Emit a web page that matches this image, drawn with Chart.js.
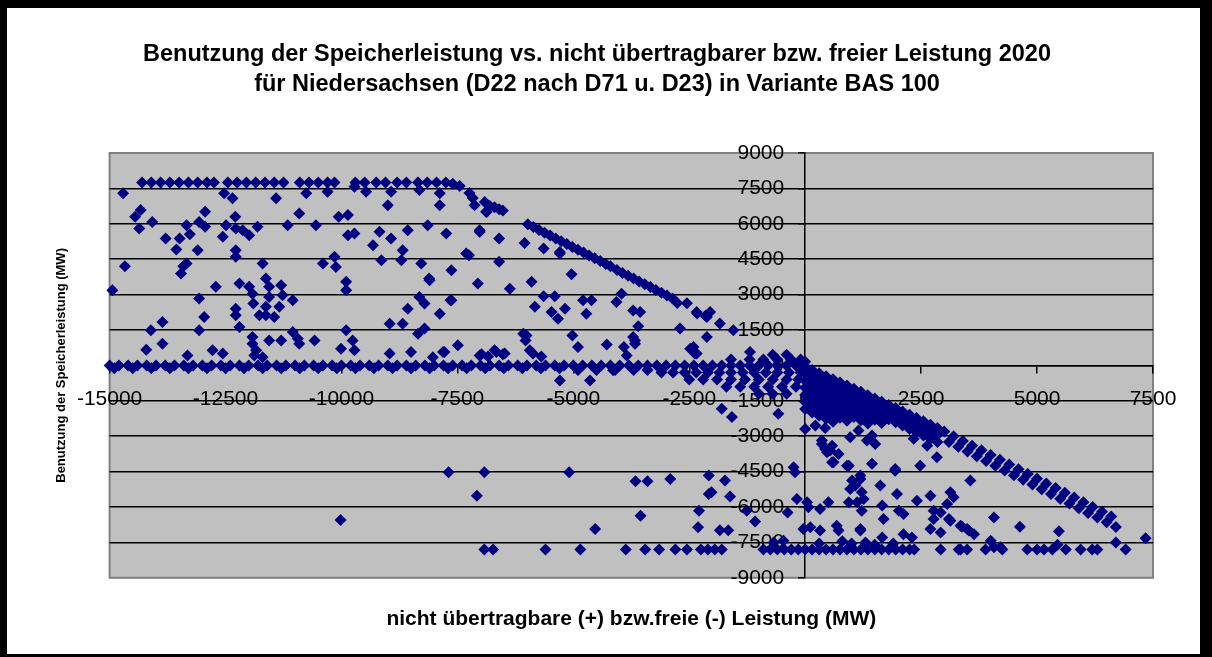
<!DOCTYPE html>
<html>
<head>
<meta charset="utf-8">
<script src="https://cdn.jsdelivr.net/npm/chart.js@4"></script>
<style>
  html, body { margin: 0; padding: 0; width: 1212px; height: 657px; background: #000; overflow: hidden; }
  #frame { position: absolute; left: 7px; top: 8px; width: 1193px; height: 646px; background: #fff; }
</style>
</head>
<body>
<div id="frame"><canvas id="speicherChart"></canvas></div>
<script>
// axis ranges / ticks
const xTicks = { min: -15000, max: 7500, step: 2500 };
const yTicks = { min: -9000, max: 9000, step: 1500 };

// points, [x, y] in MW
const capTop = [
  [-14300,7750],[-14100,7750],[-13900,7750],[-13700,7750],[-13500,7750],[-13300,7750],[-13100,7750],[-12900,7750],
  [-12750,7750],[-12450,7750],[-12250,7750],[-12050,7750],[-11850,7750],[-11650,7750],[-11450,7750],[-11250,7750],
  [-10900,7750],[-10700,7750],[-10500,7750],[-10300,7750],[-10150,7750],[-9700,7750],[-9500,7750],[-9250,7750],
  [-9050,7750],[-8800,7750],[-8600,7750],[-8350,7750],[-8150,7750],[-7950,7750],[-7750,7750],[-7600,7700]
];
const capSlope = [
  [-7450,7600],[-7240,7300],[-7170,7090],[-7130,6790],[-6910,6920],[-6870,6500],[-6800,6750],[-6700,6700],
  [-6600,6620],[-6520,6560]
];
const diagUpper = [
  [-5980,5980],[-5860,5860],[-5740,5740],[-5620,5620],[-5500,5500],[-5380,5380],[-5260,5260],[-5140,5140],
  [-5020,5020],[-4900,4900],[-4780,4780],[-4660,4660],[-4540,4540],[-4420,4420],[-4300,4300],[-4200,4200],
  [-4060,4040],[-3940,3920],[-3820,3800],[-3700,3680],[-3580,3560],[-3460,3440],[-3340,3320],[-3220,3200],
  [-3100,3080],[-2980,2960],[-2860,2840],[-2760,2640],[-2550,2630],[-2330,2200],[-2150,2100],[-1840,1780],
  [-1550,1490]
];
const scatterUpper = [
  [-14710,7290],[-14450,6300],[-14330,6580],[-14360,5800],[-14080,6080],[-14670,4200],[-14940,3180],
  [-13790,5380],[-13560,4910],[-13490,5380],[-13340,5940],[-13270,5560],[-13100,4880],[-12940,6510],[-12940,5870],
  [-13070,6080],[-13410,4200],[-13340,4320],[-13460,3890],[-12710,3330],[-13070,2830],[-12960,2050],[-13070,1490],
  [-13860,1840],[-14110,1490],[-13860,920],[-14210,660],[-13320,420],[-12780,640],[-12560,500],
  [-12530,7290],[-12350,7080],[-12290,6300],[-12490,5940],[-12560,5450],[-12280,5800],[-12130,5730],[-11990,5520],
  [-11810,5870],[-12280,4880],[-12280,4600],[-12200,3470],[-11990,3330],[-11920,3040],[-11900,2620],[-11700,4320],
  [-11630,3680],[-11560,3330],[-11560,2900],[-11300,3400],[-11270,2970],[-11050,2760],[-11630,2480],[-11770,2120],
  [-11630,2120],[-11450,2050],[-11340,2480],[-12280,2400],[-12280,2120],[-12200,1630],[-11920,1200],[-11920,920],
  [-11840,640],[-11880,420],[-11700,350],[-11560,1060],[-11300,1060],[-11050,1420],[-10940,1130],[-10910,920],
  [-10580,1060],[-11410,7080],[-11160,5940],[-10910,6440],[-10550,5940],[-10760,7290],[-10300,7360],
  [-10400,4320],[-10150,4600],[-10120,4170],[-10060,6300],[-9860,6370],[-9860,5520],[-9720,5590],
  [-9900,3540],[-9900,3180],[-9900,1490],[-9720,640],[-9720,7570],[-9470,7360],
  [-9320,5090],[-9180,5660],[-9140,4460],[-8930,5380],[-9000,6790],[-8680,4880],[-8710,4460],[-8570,5730],
  [-8280,4320],[-8140,5940],[-8110,3680],[-8930,7360],[-8320,7430],[-7880,7290],[-7880,6790],[-7740,5590],
  [-8320,2900],[-8210,2620],[-8570,2400],[-7880,2190],[-8680,1770],[-8960,1770],[-8350,1340],[-8210,1560],
  [-8960,500],[-8500,570],[-7810,570],[-8030,350],[-10010,710],[-9760,1060],
  [-7310,4740],[-7060,3470],[-7020,5730],[-6880,6510],[-7630,4030],[-7630,2760],[-7490,850],[-7780,570],
  [-7020,420],[-7020,5660],[-6600,5380],[-7250,4670],[-6600,4390],[-8100,3610],[-6370,3250],
  [-6050,5190],[-5640,4950],[-5900,3540],[-5040,3860],[-7650,2760],[-5640,2930],[-5400,2930],[-5830,2480],
  [-5470,2260],[-5330,1980],[-5180,2400],[-4790,2760],[-4610,2760],[-4720,2190],[-4070,2690],[-3960,3040],
  [-3710,2330],[-3560,2260],[-3600,1660],[-6010,1270],[-6030,1060],[-5940,640],[-5870,500],[-5020,1270],
  [-4900,780],[-4280,890],[-3910,780],[-3670,1060],[-3710,1200],[-3850,420],[-6980,470],[-6840,380],
  [-6660,570],[-6520,470],[-5690,380],[-2700,1560],[-5290,4810],[-5290,4740],[-2340,2260],[-2120,2050],
  [-2050,2260],[-2120,1200],[-2410,780],[-2340,500],[-1190,570],[-6080,1340],[-6700,640],[-6480,500],
  [-3670,920],[-2480,710],[-2380,500]
];
const zeroBand = [
  [-15000,0],[-14800,0],[-14600,0],[-14400,0],[-14200,0],[-14000,0],[-13800,0],[-13600,0],[-13400,0],[-13200,0],
  [-13000,0],[-12800,0],[-12600,0],[-12400,0],[-12200,0],[-12000,0],[-11800,0],[-11600,0],[-11400,0],[-11200,0],
  [-11000,0],[-10800,0],[-10600,0],[-10400,0],[-10200,0],[-10000,0],[-9800,0],[-9600,0],[-9400,0],[-9200,0],
  [-9000,0],[-8800,0],[-8600,0],[-8400,0],[-8200,0],[-8000,0],[-7800,0],[-7600,0],[-7400,0],[-7200,0],
  [-7000,0],[-6800,0],[-6600,0],[-6400,0],[-6200,0],[-6000,0],[-5800,0],[-5600,0],[-5400,0],[-5200,0],
  [-5000,0],[-4800,0],[-4600,0],[-4400,0],[-4200,0],[-4000,0],[-3800,0],[-3600,0],[-3400,0],[-3200,0],
  [-14900,-120],[-14500,-120],[-14100,-120],[-13700,-120],[-13300,-120],[-12900,-120],[-12500,-120],[-12100,-120],
  [-11700,-120],[-11300,-120],[-10900,-120],[-10500,-120],[-10100,-120],[-9700,-120],[-9300,-120],[-8900,-120],
  [-8500,-120],[-8100,-120],[-7700,-120],[-7300,-120],[-6900,-120],[-6500,-120],[-6100,-120],[-5700,-120],
  [-5300,-120],[-4900,-200],[-4500,-200],[-4100,-200],[-3700,-200],[-3400,-200]
];
const nearZero = [
  [-3000,0],[-2800,0],[-2600,0],[-2400,0],[-2200,0],[-2000,0],[-1800,0],[-1600,0],[-1400,0],[-1200,0],
  [-1000,0],[-800,0],[-600,0],[-400,0],[-200,0],
  [-3100,-300],[-2850,-300],[-2600,-300],[-2350,-300],[-2100,-300],[-1850,-300],[-1600,-300],[-1350,-300],
  [-1100,-300],[-850,-300],[-600,-300],[-350,-300],[-100,-300],
  [-2500,-600],[-2200,-600],[-1900,-600],[-1600,-600],[-1300,-600],[-1000,-600],[-700,-600],[-400,-600],[-150,-600],
  [-1700,-900],[-1400,-900],[-1100,-900],[-800,-900],[-500,-900],[-200,-900],
  [-1000,-1200],[-700,-1200],[-400,-1200],
  [-1600,250],[-1200,250],[-900,250],[-600,250],[-300,250],[-100,250],[-700,450],[-400,450]
];
const massRight = [
  [0,150],[0,-50],[0,-350],[0,-650],[0,-950],[0,-1250],[0,-1550],[0,-1850],
  [150,-200],[150,-500],[150,-800],[150,-1100],[150,-1400],[150,-1700],[150,-2000],
  [300,-330],[300,-630],[300,-930],[300,-1230],[300,-1530],[300,-1830],[300,-2130],
  [450,-460],[450,-760],[450,-1060],[450,-1360],[450,-1660],[450,-1960],[450,-2260],
  [600,-590],[600,-890],[600,-1190],[600,-1490],[600,-1790],[600,-2090],[600,-2390],
  [750,-720],[750,-1020],[750,-1320],[750,-1620],[750,-1920],[750,-2220],
  [900,-850],[900,-1150],[900,-1450],[900,-1750],[900,-2050],[900,-2350],
  [1050,-990],[1050,-1290],[1050,-1590],[1050,-1890],[1050,-2190],
  [1200,-1120],[1200,-1420],[1200,-1720],[1200,-2020],[1200,-2320],
  [1350,-1260],[1350,-1560],[1350,-1860],[1350,-2160],[1350,-2460],
  [1500,-1400],[1500,-1700],[1500,-2000],[1500,-2300],
  [1650,-1540],[1650,-1840],[1650,-2140],[1650,-2440],
  [1800,-1680],[1800,-1980],[1800,-2280],
  [1950,-1810],[1950,-2110],[1950,-2410],
  [2100,-1950],[2100,-2250],[2100,-2550],
  [2250,-2090],[2250,-2390],[2250,-2690],
  [2400,-2230],[2400,-2530],[2400,-2830],
  [2550,-2370],[2550,-2670],[2550,-2970],
  [2700,-2510],[2700,-2810],[2700,-3110],
  [2850,-2650],[2850,-2950],[2850,-3250]
];
const diagLower = [
  [3000,-2800],[3200,-3000],[3400,-3200],[3600,-3400],[3800,-3600],[4000,-3800],[4200,-4000],[4400,-4200],
  [4600,-4400],[4800,-4600],[5000,-4800],[5200,-5000],[5400,-5200],[5600,-5400],[5800,-5600],[6000,-5800],
  [6200,-6000],[6400,-6200],[6600,-6400],
  [3100,-3250],[3300,-3450],[3500,-3650],[3700,-3850],[3900,-4050],[4100,-4250],[4300,-4450],[4500,-4650],
  [4700,-4850],[4900,-5050],[5100,-5250],[5300,-5450],[5500,-5650],[5700,-5850],[5900,-6050],[6100,-6250],
  [6300,-6450],[6500,-6650],[6700,-6850]
];
const scatterLower = [
  [-5290,-640],[-4640,-640],[-4140,-210],
  [-7690,-4530],[-6920,-4530],[-5090,-4530],[-7080,-5520],[-10020,-6550],[-3660,-4910],[-3400,-4910],
  [-2910,-4810],[-3550,-6370],[-4530,-6930],[-2290,-6160],[-2310,-6860],[-2080,-4670],[-2080,-5450],
  [-1730,-4880],[-2020,-5380],[-1620,-5560],[-1260,-6160],[-1080,-6610],[-1840,-6980],[-1660,-6980],
  [-250,-4320],[-220,-4530],[-180,-5660],[-380,-6230],[-680,-7500],[-470,-7430],
  [40,-5800],[70,-6010],[320,-6080],[500,-5800],
  [360,-3330],[430,-3540],[580,-3400],[470,-3680],[720,-3750],[610,-4100],[900,-4250],
  [1010,-4880],[970,-5240],[1080,-5090],[1190,-4810],[1220,-5380],[1260,-5660],[1120,-5800],[940,-5800],
  [1440,-4170],[1220,-6160],[1190,-7000],[1620,-5090],[1660,-5940],[1690,-6510],[1980,-5450],[2020,-6160],
  [2120,-6300],[1940,-4460],[2410,-5730],[2700,-5520],[2770,-6160],[2920,-6230],[2770,-6510],[3100,-6510],
  [3130,-5380],[3200,-5590],[3060,-5870],[2700,-6930],[2920,-7080],[3130,-6580],
  [2480,-4250],[2840,-3890],[3560,-4880],[3350,-6790],[3490,-6930],[3640,-7150],[4070,-6440],
  [-40,-6930],[110,-6860],[320,-7000],[680,-6790],[720,-7000],[1190,-6930],[1660,-7290],[2120,-7150],[2300,-7290],
  [3380,-6840],[3530,-7000],[4630,-6840],[5470,-7030],[4000,-7430],[4070,-7710],[4210,-7710],
  [5440,-7600],[6700,-7500],[7340,-7320],
  [-1800,-1840],[-1580,-2190],[-580,-2050],[0,-2690],[220,-2550],[430,-2650],[360,-3180],[540,-3610],
  [580,-4100],[970,-3040],[1150,-2760],[1330,-3180],[1510,-3330],[1440,-2970],[940,-4250],[1190,-4670],
  [1940,-4390],[2340,-3110],[2630,-3400],
  [300,-7550],[800,-7450],[1000,-7550],[1300,-7500],[1500,-7600],[1900,-7550]
];
const capBottom = [
  [-6920,-7800],[-6730,-7800],[-5600,-7800],[-4850,-7800],[-3870,-7800],[-3450,-7800],[-3150,-7800],[-2800,-7800],
  [-2550,-7800],[-2250,-7800],[-2100,-7800],[-1950,-7800],[-1800,-7800],
  [-900,-7800],[-750,-7800],[-600,-7800],[-450,-7800],[-300,-7800],[-150,-7800],[0,-7800],[150,-7800],[300,-7800],
  [450,-7800],[600,-7800],[750,-7800],[900,-7800],[1050,-7800],[1200,-7800],[1350,-7800],[1500,-7800],
  [1650,-7800],[1800,-7800],[1950,-7800],[2100,-7800],[2250,-7800],[2350,-7800],
  [2920,-7800],[3310,-7800],[3350,-7800],[3490,-7800],[3890,-7800],[4250,-7800],[4790,-7800],[5000,-7800],
  [5150,-7800],[5330,-7800],[5620,-7800],[5940,-7800],[6190,-7800],[6300,-7800],[6910,-7800]
];

const pointGroups = [capTop, capSlope, diagUpper, scatterUpper, zeroBand, nearZero, massRight, diagLower, scatterLower, capBottom];

const fontFamily = "'Liberation Sans', Arial, sans-serif";

const plotBackground = {
  id: 'plotBackground',
  beforeDraw(chart) {
    const { ctx, chartArea } = chart;
    ctx.save();
    ctx.fillStyle = '#c0c0c0';
    ctx.fillRect(chartArea.left, chartArea.top, chartArea.width, chartArea.height);
    ctx.strokeStyle = '#808080';
    ctx.lineWidth = 2;
    ctx.strokeRect(chartArea.left, chartArea.top, chartArea.width, chartArea.height);
    ctx.restore();
  }
};

const ctx = document.getElementById('speicherChart').getContext('2d');
new Chart(ctx, {
  type: 'scatter',
  data: {
    datasets: pointGroups.map(group => ({
      data: group.map(p => ({ x: p[0], y: p[1] })),
      pointStyle: 'rectRot',
      pointRadius: 6,
      pointBorderWidth: 0,
      backgroundColor: '#000080',
      borderColor: '#000080',
      clip: false
    }))
  },
  options: {
    responsive: true,
    maintainAspectRatio: false,
    animation: false,
    layout: { padding: { left: 34, right: 47, top: 0, bottom: 0 } },
    plugins: {
      legend: { display: false },
      tooltip: { enabled: false },
      title: {
        display: true,
        text: ['Benutzung der Speicherleistung vs. nicht übertragbarer bzw. freier Leistung 2020',
               'für Niedersachsen (D22 nach D71 u. D23) in Variante BAS 100'],
        color: '#000',
        font: { family: fontFamily, size: 23.5, weight: 'bold', lineHeight: 30 / 23.5 },
        padding: { top: 32, bottom: 53 }
      }
    },
    scales: {
      x: {
        type: 'linear',
        position: { y: 0 },
        min: xTicks.min,
        max: xTicks.max,
        ticks: {
          stepSize: xTicks.step,
          color: '#000',
          padding: 14,
          font: { family: fontFamily, size: 21 },
          callback: v => String(v)
        },
        grid: { drawOnChartArea: false, drawTicks: true, tickLength: 7, color: '#000', lineWidth: 1.5 },
        border: { display: true, color: '#000', width: 1.5 }
      },
      y: {
        type: 'linear',
        position: { x: 0 },
        min: yTicks.min,
        max: yTicks.max,
        ticks: {
          stepSize: yTicks.step,
          color: '#000',
          font: { family: fontFamily, size: 21 },
          callback: v => String(v) + '\u2002\u2002'
        },
        grid: {
          color: c => (c.tick && Math.abs(c.tick.value) === 9000) ? 'rgba(0,0,0,0)' : '#000',
          tickColor: '#000',
          lineWidth: 1.5,
          tickLength: 6
        },
        border: { display: true, color: '#000', width: 1.5 }
      },
      xTitle: {
        type: 'linear',
        axis: 'x',
        position: 'bottom',
        display: true,
        ticks: { display: false },
        grid: { display: false, drawTicks: false },
        border: { display: false },
        title: {
          display: true,
          text: 'nicht übertragbare (+) bzw.freie (-) Leistung (MW)',
          color: '#000',
          font: { family: fontFamily, size: 21, weight: 'bold', lineHeight: 1.2 },
          padding: { top: 29, bottom: 22 }
        }
      },
      yTitle: {
        type: 'linear',
        axis: 'y',
        position: 'left',
        display: true,
        ticks: { display: false },
        grid: { display: false, drawTicks: false },
        border: { display: false },
        title: {
          display: true,
          text: 'Benutzung der Speicherleistung (MW)',
          color: '#000',
          font: { family: fontFamily, size: 13, weight: 'bold', lineHeight: 1.2 },
          padding: { top: 13, bottom: 40 }
        }
      }
    }
  },
  plugins: [plotBackground]
});
</script>
</body>
</html>
